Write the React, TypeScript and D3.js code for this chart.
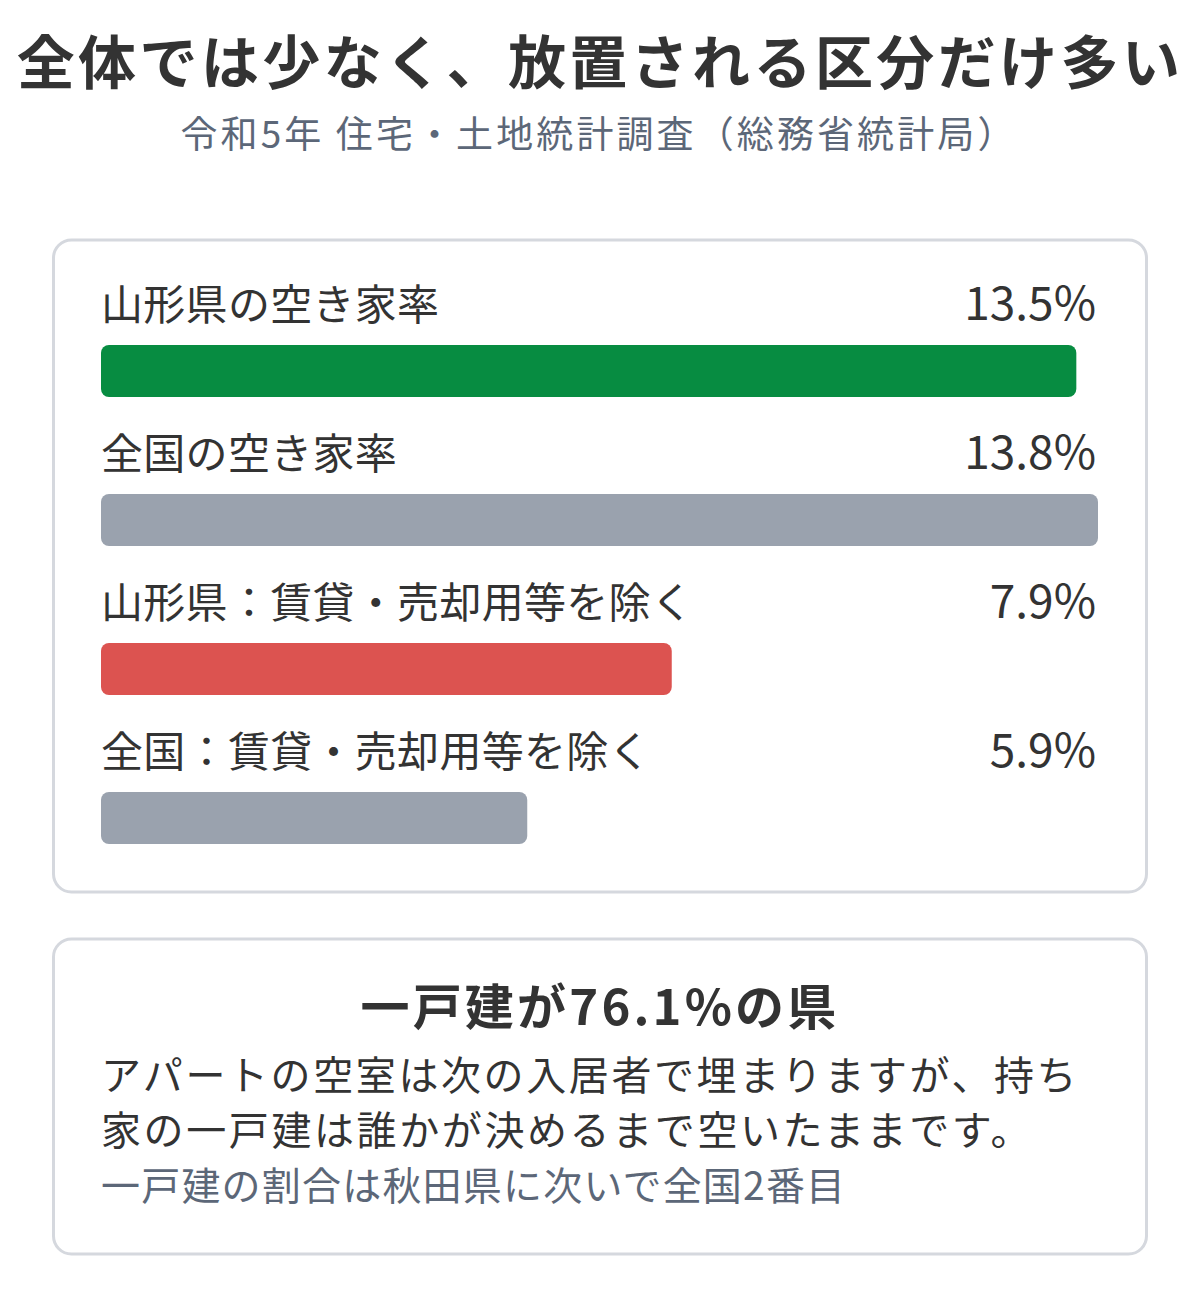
import React, { useEffect } from "react";
import * as d3 from "d3";

const TITLE = "全体では少なく、放置される区分だけ多い";
const SUBTITLE = "令和5年 住宅・土地統計調査（総務省統計局）";
const labels = ["山形県の空き家率", "全国の空き家率", "山形県：賃貸・売却用等を除く", "全国：賃貸・売却用等を除く"];
const values = [13.5, 13.8, 7.9, 5.9];
const valueLabels = ["13.5%", "13.8%", "7.9%", "5.9%"];
const barColors = ["#078c41", "#9aa2ae", "#dc5350", "#9aa2ae"];
const noteTitle = "一戸建が76.1%の県";
const noteLines = [
  "アパートの空室は次の入居者で埋まりますが、持ち",
  "家の一戸建は誰かが決めるまで空いたままです。",
];
const noteSub = "一戸建の割合は秋田県に次いで全国2番目";

const W = 1200;
const H = 1303;
const FONT = "'Noto Sans CJK JP', 'Noto Sans', sans-serif";
const DARK = "#333333";
const MUTED = "#5c6778";

export default function App() {
  useEffect(() => {
    document.body.style.margin = "0";
  }, []);

  const x = d3
    .scaleLinear()
    .domain([0, d3.max(values) as number])
    .range([101, 1098]);
  const rowY = d3
    .scaleLinear()
    .domain([0, 1])
    .range([320, 469]);

  return (
    <svg width={W} height={H} style={{ display: "block", background: "#fff" }} fontFamily={FONT}>
      <text x={600} y={84} textAnchor="middle" fontSize={58} fontWeight={700} fill={DARK} letterSpacing={3.4}>
        {TITLE}
      </text>
      <text x={599} y={148} textAnchor="middle" fontSize={37} fill={MUTED} letterSpacing={3.1}>
        {SUBTITLE}
      </text>

      <rect x={53.5} y={240} width={1093} height={652} rx={18} fill="#fff" stroke="#d5d8de" strokeWidth={3} />
      {labels.map((lab, i) => {
        const base = rowY(i);
        return (
          <g key={i}>
            <text x={101} y={base} fontSize={42} fill={DARK} letterSpacing={0.3}>
              {lab}
            </text>
            <text x={1096} y={base} fontSize={46} fill={DARK} textAnchor="end">
              {valueLabels[i]}
            </text>
            <rect x={x(0)} y={base + 25} width={x(values[i]) - x(0)} height={52} rx={8} fill={barColors[i]} />
          </g>
        );
      })}

      <rect x={53.5} y={939} width={1093} height={315} rx={18} fill="#fff" stroke="#d5d8de" strokeWidth={3} />
      <text x={600} y={1025} textAnchor="middle" fontSize={49} fontWeight={700} fill={DARK} letterSpacing={3.2}>
        {noteTitle}
      </text>
      {noteLines.map((l, i) => (
        <text key={i} x={101} y={1090 + i * 55} fontSize={40} fill={DARK} letterSpacing={2.6}>
          {l}
        </text>
      ))}
      <text x={101} y={1200} fontSize={39} fill={MUTED} letterSpacing={1.2}>
        {noteSub}
      </text>
    </svg>
  );
}
